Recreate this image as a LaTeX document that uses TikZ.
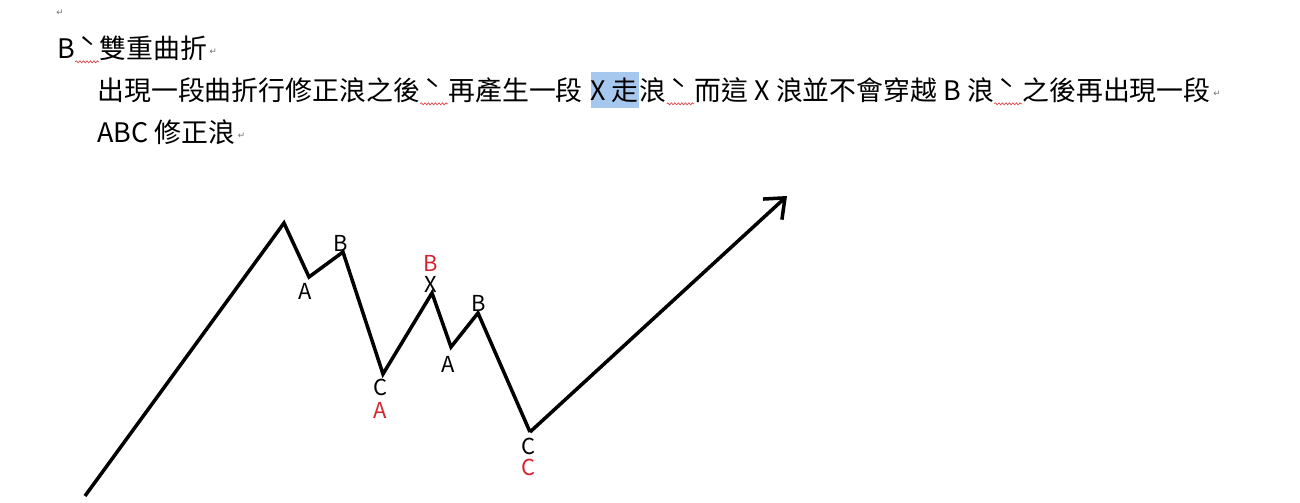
\documentclass[tikz,border=0pt]{standalone}
\usepackage{fontspec}
\newfontfamily\tcfont{Noto Sans CJK TC}
\newfontfamily\symfont{DejaVu Sans}
\usetikzlibrary{positioning, arrows.meta, decorations.pathmorphing}
\usepackage{xcolor}
\definecolor{wavered}{HTML}{D42630}
\definecolor{spellred}{HTML}{E0454A}
\definecolor{selblue}{HTML}{A6C8EE}
\definecolor{markgray}{HTML}{707070}
\newcommand{\tonemark}[1][0.54cm]{\makebox[#1][l]{\hspace{2pt}ˋ}}

\begin{document}
\begin{tikzpicture}[
    txt/.style={inner sep=0pt, anchor=west, font=\tcfont\fontsize{15.3pt}{18pt}\selectfont,
      text height=13.5pt, text depth=1.8pt},
    retmark/.style={inner sep=0pt, anchor=west, text=markgray, font=\symfont\fontsize{5pt}{6pt}\selectfont},
    spell/.style={draw=spellred, line width=0.4pt, decorate,
      decoration={snake, segment length=0.7mm, amplitude=0.2mm}},
    lbl/.style={inner sep=0pt, font=\tcfont\fontsize{12.5pt}{14pt}\selectfont},
    redlbl/.style={lbl, text=wavered},
    wave/.style={line width=2pt, black}
  ]
  \useasboundingbox (0,0) rectangle (26,10.04);

  % heading text
  \node[retmark] (m0) at (1.12,9.78) {↵};
  \node[txt] (l1a) at (1.14,9.08) {B};
  \node[txt, right=0pt of l1a] (l1b) {\tonemark[0.46cm]};
  \node[txt, right=0pt of l1b] (l1c) {雙重曲折};
  \node[retmark, right=0.04cm of l1c, yshift=-0.08cm] (m1) {↵};
  \draw[spell] (l1b.south west) -- (l1b.south east);

  \node[txt] (l2a) at (1.94,8.24) {出現一段曲折行修正浪之後};
  \node[txt, right=0pt of l2a] (l2b) {\tonemark};
  \node[txt, right=0pt of l2b] (l2c) {再產生一段};
  \node[txt, right=0.14cm of l2c, fill=selblue, inner ysep=0.09cm] (l2d) {X 走};
  \node[txt, right=0pt of l2d] (l2e) {浪};
  \node[txt, right=0pt of l2e] (l2f) {\tonemark};
  \node[txt, right=0pt of l2f] (l2g) {而這 X 浪並不會穿越 B 浪};
  \node[txt, right=0pt of l2g] (l2h) {\tonemark};
  \node[txt, right=0pt of l2h] (l2i) {之後再出現一段};
  \node[retmark, right=0.04cm of l2i, yshift=-0.08cm] (m2) {↵};
  \draw[spell] (l2b.south west) -- (l2b.south east);
  \draw[spell] (l2f.south west) -- (l2f.south east);
  \draw[spell] (l2h.south west) -- (l2h.south east);

  \node[txt] (l3a) at (1.94,7.40) {ABC 修正浪};
  \node[retmark, right=0.04cm of l3a, yshift=-0.08cm] (m3) {↵};

  % wave path
  \coordinate (p0) at (1.70,0.12);
  \coordinate (p1) at (5.68,5.58);
  \coordinate (p2) at (6.18,4.50);
  \coordinate (p3) at (6.86,5.00);
  \coordinate (p4) at (7.66,2.56);
  \coordinate (p5) at (8.64,4.18);
  \coordinate (p6) at (9.02,3.10);
  \coordinate (p7) at (9.56,3.78);
  \coordinate (p8) at (10.60,1.40);
  \coordinate (p9) at (15.74,6.12);
  \draw[wave] (p0) -- (p1) -- (p2) -- (p3) -- (p4) -- (p5) -- (p6) -- (p7) -- (p8);
  \draw[wave, -{Straight Barb[length=3.4mm, width=5.6mm]}] (p8) -- (p9);

  % wave labels
  \node[lbl] (a1) at (6.10,4.22) {A};
  \node[lbl] (b1) at (6.82,5.18) {B};
  \node[lbl] (c1) at (7.62,2.30) {C};
  \node[redlbl] (ra) at (7.60,1.84) {A};
  \node[lbl] (x1) at (8.62,4.36) {X};
  \node[redlbl] (rb) at (8.62,4.78) {B};
  \node[lbl] (a2) at (8.96,2.76) {A};
  \node[lbl] (b2) at (9.58,3.98) {B};
  \node[lbl] (c2) at (10.58,1.12) {C};
  \node[redlbl] (rc) at (10.58,0.70) {C};
\end{tikzpicture}
\end{document}
